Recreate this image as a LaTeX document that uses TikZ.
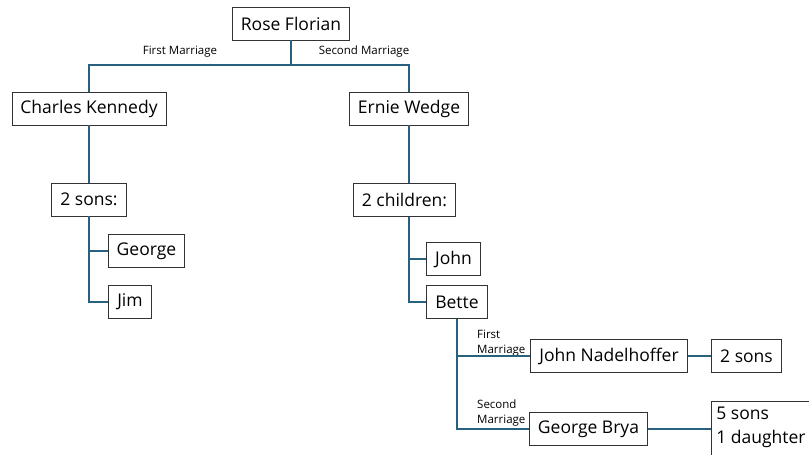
\documentclass[tikz,border=0pt]{standalone}
\usepackage{fontspec}
\setmainfont{Open Sans}
\usepackage{tikz}

\definecolor{linkblue}{RGB}{40,96,128}

\tikzset{
  person/.style={draw=black!80, line width=0.8pt, fill=white, inner xsep=8.5pt,
    minimum height=33pt, font=\fontsize{17.5}{21}\selectfont},
  link/.style={draw=linkblue, line width=1.4pt},
  marr/.style={font=\fontsize{11.5}{15}\selectfont, inner sep=0pt, align=left}
}

\begin{document}
\begin{tikzpicture}[x=1pt,y=-1pt]
  % Page frame
  \useasboundingbox (0,0) rectangle (809,455);
  % People
  \node[person] (rose)    at (291,23.5)  {Rose Florian};
  \node[person] (charles) at (89,108.5)  {Charles Kennedy};
  \node[person] (ernie)   at (409,108.5) {Ernie Wedge};
  \node[person] (sons)    at (89,199.5)  {2 sons:};
  \node[person] (george)  at (146.5,251) {George};
  \node[person] (jim)     at (130,302)   {Jim};
  \node[person] (kids)    at (404.5,200) {2 children:};
  \node[person] (john)    at (453.5,259) {John};
  \node[person] (bette)   at (457,302)   {Bette};
  \node[person] (nadel)   at (609,356)   {John Nadelhoffer};
  \node[person] (nsons)   at (746.5,356) {2 sons};
  \node[person] (brya)    at (588.5,429) {George Brya};
  % last box runs off the page
  \node[person, draw=none, fill=none, anchor=north west, align=left,
    inner xsep=5pt, inner ysep=6pt, minimum height=0pt,
    font=\fontsize{17.5}{24}\selectfont] (bsons) at (711,401) {5 sons\\1 daughter};
  \draw[black!80, line width=0.8pt] (bsons.north west |- 0,470) -- (bsons.north west) -- ++(120,0);
  % Marriage labels
  \node[marr] (lfirst)  at (180,52) {First Marriage};
  \node[marr] (lsecond) at (364,52) {Second Marriage};
  \node[marr, anchor=west] (lbfirst)  at (477,343) {First\\Marriage};
  \node[marr, anchor=west] (lbsecond) at (477,413) {Second\\Marriage};
  % Connectors
  \coordinate (top) at (291,65);
  \draw[link] (rose.south) -- (top);
  \draw[link] (charles.north) |- (top) -| (ernie.north);
  \draw[link] (charles.south) -- (sons.north);
  \draw[link] (sons.south) |- (jim.west);
  \draw[link] (sons.south |- george.west) -- (george.west);
  \draw[link] (ernie.north |- kids.south) |- (bette.west);
  \draw[link] (ernie.south) -- (ernie.south |- kids.north);
  \draw[link] (ernie.south |- john.west) -- (john.west);
  \draw[link] (bette.south) |- (brya.west);
  \draw[link] (bette.south |- nadel.west) -- (nadel.west);
  \draw[link] (nadel.east) -- (nsons.west);
  \draw[link] (brya.east) -- (brya.east -| bsons.west);
\end{tikzpicture}
\end{document}
